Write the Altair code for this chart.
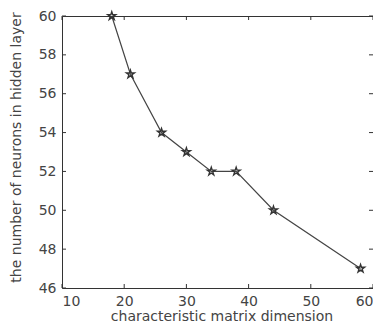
import altair as alt
import pandas as pd

dims = [18, 21, 26, 30, 34, 38, 44, 58]
neurons = [60, 57, 54, 53, 52, 52, 50, 47]
x_ticks = [10, 20, 30, 40, 50, 60]
y_ticks = [46, 48, 50, 52, 54, 56, 58, 60]

df = pd.DataFrame({"x": dims, "y": neurons})
dfx = pd.DataFrame({"t": x_ticks})
dfy = pd.DataFrame({"t": y_ticks})

PL, PT, PB = 54, 8, 36
W, H = 365 - PL, 316 - PT - PB
INK = "#333333"
LINE = "#444444"
TXT = "#444444"
FONT = "DejaVu Sans"
star = ("M0,-1L0.225,-0.309L0.951,-0.309L0.363,0.118L0.588,0.809L0,0.382"
        "L-0.588,0.809L-0.363,0.118L-0.951,-0.309L-0.225,-0.309Z")

xs = alt.Scale(domain=[10, 60], nice=False, zero=False)
ys = alt.Scale(domain=[46, 60], nice=False, zero=False)

base = alt.Chart(df)

line = base.mark_line(color=LINE, strokeWidth=1.2).encode(
    x=alt.X("x:Q", scale=xs, axis=alt.Axis(
        values=x_ticks, ticks=False, domain=False, grid=False,
        title="characteristic matrix dimension", labelPadding=6,
        labelFontSize=14, titleFontSize=14,
        titleBaseline="alphabetic", titleY=32, titleX=W / 2 + 4)),
    y=alt.Y("y:Q", scale=ys, axis=alt.Axis(
        values=y_ticks, ticks=False, domain=False, grid=False,
        title="the number of neurons in hidden layer", labelPadding=6,
        labelFontSize=14, titleFontSize=14,
        titleBaseline="middle", titleX=-46, titleY=H / 2 - 5)),
)

pts = base.mark_point(shape=star, size=70, color=INK, filled=False,
                      strokeWidth=1.4, opacity=1).encode(
    x=alt.X("x:Q", scale=xs, axis=None),
    y=alt.Y("y:Q", scale=ys, axis=None),
)

TL = 4
xt_bot = alt.Chart(dfx).mark_rule(color=INK, strokeWidth=1).encode(
    x=alt.X("t:Q", scale=xs, axis=None), y=alt.value(H), y2=alt.value(H - TL))
xt_top = alt.Chart(dfx).mark_rule(color=INK, strokeWidth=1).encode(
    x=alt.X("t:Q", scale=xs, axis=None), y=alt.value(0), y2=alt.value(TL))
yt_left = alt.Chart(dfy).mark_rule(color=INK, strokeWidth=1).encode(
    y=alt.Y("t:Q", scale=ys, axis=None), x=alt.value(0), x2=alt.value(TL))
yt_right = alt.Chart(dfy).mark_rule(color=INK, strokeWidth=1).encode(
    y=alt.Y("t:Q", scale=ys, axis=None), x=alt.value(W), x2=alt.value(W - TL))

chart = alt.layer(line, pts, xt_bot, xt_top, yt_left, yt_right).resolve_axis(
    x="independent", y="independent"
).properties(
    width=W, height=H,
    autosize=alt.AutoSizeParams(type="none"),
    padding={"left": PL, "top": PT, "right": 0, "bottom": PB},
).configure_view(
    stroke=INK, strokeWidth=1
).configure_axis(
    labelFont=FONT, titleFont=FONT, labelColor=TXT, titleColor=TXT,
    titleFontWeight="normal",
)

chart.save("out.html", embed_options={"renderer": "svg", "actions": False})
